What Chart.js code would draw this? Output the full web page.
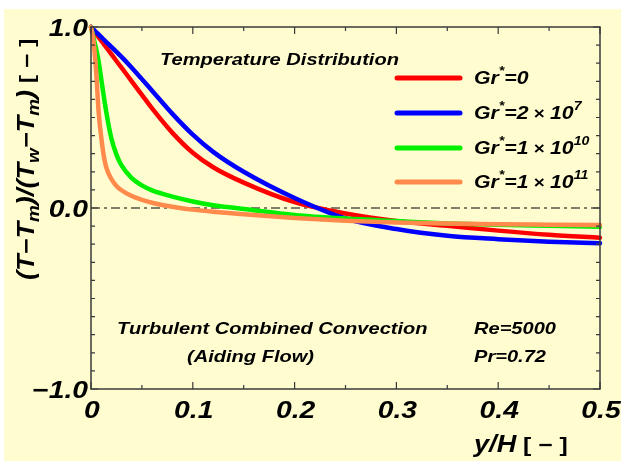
<!DOCTYPE html>
<html>
<head>
<meta charset="utf-8">
<script src="https://cdn.jsdelivr.net/npm/chart.js@4"></script>
<style>
  html, body { margin: 0; padding: 0; background: #fff; }
  canvas { display: block; }
</style>
</head>
<body>
<canvas id="chart" width="621" height="461"></canvas>
<script>
// y/H positions and dimensionless temperature for each Gr*
const yH     = [0, 0.0025, 0.005, 0.0075, 0.01, 0.0125, 0.015, 0.02, 0.025, 0.03, 0.04, 0.05, 0.06, 0.08, 0.1, 0.12, 0.15, 0.2, 0.25, 0.3, 0.35, 0.4, 0.45, 0.5];
const gr0    = [1, 0.981, 0.962, 0.944, 0.925, 0.906, 0.888, 0.85, 0.812, 0.775, 0.7, 0.625, 0.55, 0.415, 0.305, 0.225, 0.14, 0.032, -0.03, -0.072, -0.098, -0.125, -0.148, -0.164];
const gr2e7  = [1, 0.986, 0.972, 0.959, 0.945, 0.931, 0.917, 0.89, 0.862, 0.835, 0.775, 0.712, 0.648, 0.52, 0.405, 0.31, 0.2, 0.055, -0.058, -0.116, -0.153, -0.172, -0.186, -0.195];
const gr1e10 = [1, 0.94, 0.88, 0.81, 0.715, 0.62, 0.53, 0.385, 0.295, 0.235, 0.165, 0.125, 0.097, 0.063, 0.036, 0.015, -0.005, -0.038, -0.058, -0.072, -0.085, -0.093, -0.098, -0.103];
const gr1e11 = [1, 0.92, 0.76, 0.53, 0.395, 0.29, 0.225, 0.16, 0.122, 0.098, 0.066, 0.045, 0.029, 0.007, -0.009, -0.021, -0.035, -0.055, -0.07, -0.08, -0.086, -0.09, -0.092, -0.094];

const seriesNames  = ['Gr*=0', 'Gr*=2x10^7', 'Gr*=1x10^10', 'Gr*=1x10^11'];
const seriesColors = ['#ff0000', '#0000ff', '#00f000', '#ff8a4c'];

const xTickValues = [0, 0.1, 0.2, 0.3, 0.4, 0.5];
const xTickLabels = ['0', '0.1', '0.2', '0.3', '0.4', '0.5'];
const yTickValues = [-1, 0, 1];
const yTickLabels = ['\u22121.0', '0.0', '1.0'];

const BG = '#fffdd0';
const SX = 1.18; // text looks horizontally stretched in the original

function font(size, italic) {
    return (italic ? 'italic ' : '') + 'bold ' + size + 'px "Liberation Sans", Arial, sans-serif';
}

function drawRich(ctx, x, y, segs, align, rot) {
    ctx.save();
    ctx.translate(x, y);
    if (rot) ctx.rotate(rot);
    ctx.scale(SX, 1);
    ctx.textAlign = 'left';
    ctx.textBaseline = 'alphabetic';
    ctx.fillStyle = '#000';
    let w = 0;
    segs.forEach(s => {
        ctx.font = font(s.size, s.italic !== false);
        w += ctx.measureText(s.t).width;
    });
    let cx = align === 'center' ? -w / 2 : align === 'right' ? -w : 0;
    segs.forEach(s => {
        ctx.font = font(s.size, s.italic !== false);
        ctx.fillText(s.t, cx, s.dy || 0);
        cx += ctx.measureText(s.t).width;
    });
    ctx.restore();
}

function grLabel(pre, exp) {
    const segs = [
        { t: 'Gr', size: 18 },
        { t: '*', size: 12, dy: -9 },
        { t: '=' + pre, size: 18 }
    ];
    if (exp) {
        segs.push({ t: ' \u00d7 ', size: 16, italic: false });
        segs.push({ t: '10', size: 18 });
        segs.push({ t: exp, size: 12, dy: -9 });
    }
    return segs;
}

const legendTexts = [grLabel('0'), grLabel('2', '7'), grLabel('1', '10'), grLabel('1', '11')];

const decor = {
    id: 'decor',
    beforeDraw(chart) {
        const ctx = chart.ctx;
        ctx.save();
        ctx.fillStyle = BG;
        ctx.fillRect(4, 9, chart.width - 4, chart.height - 9);
        ctx.restore();
    },
    beforeDatasetsDraw(chart) {
        const ctx = chart.ctx, a = chart.chartArea;
        const y0 = chart.scales.y.getPixelForValue(0);
        ctx.save();
        ctx.strokeStyle = '#000';
        ctx.lineWidth = 1;
        ctx.setLineDash([9, 4, 3, 4]);
        ctx.beginPath();
        ctx.moveTo(a.left, y0);
        ctx.lineTo(a.right, y0);
        ctx.stroke();
        ctx.restore();
    },
    afterDatasetsDraw(chart) {
        const ctx = chart.ctx, a = chart.chartArea;
        const xs = chart.scales.x, ys = chart.scales.y;
        ctx.save();
        // frame
        ctx.strokeStyle = '#3a3a3a';
        ctx.lineWidth = 1.5;
        ctx.strokeRect(a.left, a.top, a.right - a.left, a.bottom - a.top);
        // inward ticks on all four sides
        ctx.lineWidth = 1.2;
        ctx.beginPath();
        xs.ticks.forEach(t => {
            const px = xs.getPixelForValue(t.value);
            const major = Math.abs(t.value * 10 - Math.round(t.value * 10)) < 1e-6;
            const len = major ? 7 : 4;
            ctx.moveTo(px, a.bottom); ctx.lineTo(px, a.bottom - len);
            ctx.moveTo(px, a.top); ctx.lineTo(px, a.top + len);
        });
        ys.ticks.forEach(t => {
            const py = ys.getPixelForValue(t.value);
            const major = Math.abs(t.value - Math.round(t.value)) < 1e-6;
            const len = major ? 7 : 4;
            ctx.moveTo(a.left, py); ctx.lineTo(a.left + len, py);
            ctx.moveTo(a.right, py); ctx.lineTo(a.right - len, py);
        });
        ctx.stroke();
        ctx.restore();

        // tick labels
        xTickValues.forEach((v, i) => {
            drawRich(ctx, xs.getPixelForValue(v) + 1, 418, [{ t: xTickLabels[i], size: 24 }], 'center');
        });
        yTickValues.forEach((v, i) => {
            drawRich(ctx, a.left - 3, ys.getPixelForValue(v) + 9, [{ t: yTickLabels[i], size: 24 }], 'right');
        });

        // axis titles
        drawRich(ctx, 474, 452, [
            { t: 'y/H', size: 23 },
            { t: ' [ \u2212 ]', size: 21, italic: false }
        ], 'left');
        drawRich(ctx, 34, 280, [
            { t: '(T\u2212T', size: 23 },
            { t: 'm', size: 16, dy: 5 },
            { t: ')/(T', size: 23 },
            { t: 'w', size: 16, dy: 5 },
            { t: '\u2212T', size: 23 },
            { t: 'm', size: 16, dy: 5 },
            { t: ')', size: 23 },
            { t: ' [ \u2212 ]', size: 21, italic: false }
        ], 'left', -Math.PI / 2);

        // annotations
        drawRich(ctx, 160, 65, [{ t: 'Temperature Distribution', size: 17 }], 'left');
        drawRich(ctx, 117, 334, [{ t: 'Turbulent Combined Convection', size: 17 }], 'left');
        drawRich(ctx, 187, 362, [{ t: '(Aiding Flow)', size: 17 }], 'left');
        drawRich(ctx, 474, 334, [{ t: 'Re=5000', size: 17 }], 'left');
        drawRich(ctx, 474, 362, [{ t: 'Pr=0.72', size: 17 }], 'left');

        // legend
        const legY = [78, 113, 148, 182];
        ctx.save();
        ctx.lineWidth = 5;
        ctx.lineCap = 'round';
        legY.forEach((ly, i) => {
            ctx.strokeStyle = seriesColors[i];
            ctx.beginPath();
            ctx.moveTo(397, ly);
            ctx.lineTo(460, ly);
            ctx.stroke();
        });
        ctx.restore();
        legY.forEach((ly, i) => drawRich(ctx, 474, ly + 6, legendTexts[i], 'left'));
    }
};

const series = [gr0, gr2e7, gr1e10, gr1e11];
const drawOrder = [3, 2, 1, 0]; // orange on top

const datasets = series.map((vals, i) => ({
    label: seriesNames[i],
    data: yH.map((x, j) => ({ x: x, y: vals[j] })),
    borderColor: seriesColors[i],
    backgroundColor: seriesColors[i],
    borderWidth: 4.5,
    borderCapStyle: 'round',
    borderJoinStyle: 'round',
    showLine: true,
    pointRadius: 0,
    cubicInterpolationMode: 'monotone',
    clip: false,
    order: drawOrder[i]
}));

const config = {
    type: 'scatter',
    data: { datasets: datasets },
    options: {
        responsive: false,
        animation: false,
        layout: { padding: { left: 0, top: 27, right: 21, bottom: 0 } },
        plugins: {
            legend: { display: false },
            tooltip: { enabled: false }
        },
        scales: {
            x: {
                type: 'linear',
                min: 0,
                max: 0.5,
                ticks: { stepSize: 0.05, display: false },
                grid: { display: false },
                border: { display: false },
                afterFit: s => { s.height = 72; }
            },
            y: {
                min: -1,
                max: 1,
                ticks: { stepSize: 0.1, display: false },
                grid: { display: false },
                border: { display: false },
                afterFit: s => { s.width = 91; }
            }
        }
    },
    plugins: [decor]
};

new Chart(document.getElementById('chart'), config);
</script>
</body>
</html>
